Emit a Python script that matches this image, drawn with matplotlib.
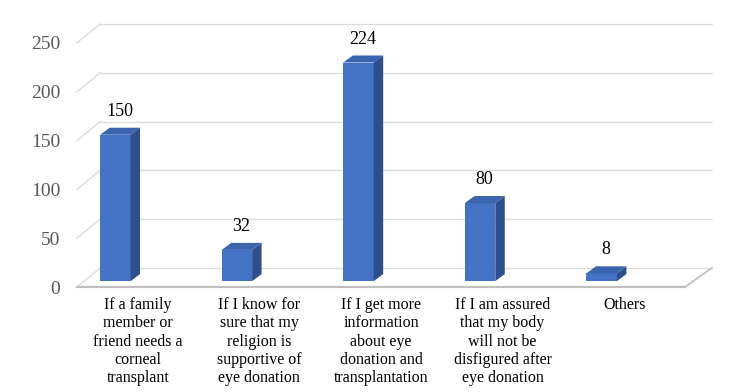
import matplotlib
matplotlib.use("Agg")
import matplotlib.pyplot as plt
from matplotlib.patches import Polygon

categories = [
    "If a family\nmember or\nfriend needs a\ncorneal\ntransplant",
    "If I know for\nsure that my\nreligion is\nsupportive of\neye donation",
    "If I get more\ninformation\nabout eye\ndonation and\ntransplantation",
    "If I am assured\nthat my body\nwill not be\ndisfigured after\neye donation",
    "Others",
]
values = [150, 32, 224, 80, 8]
yticks = [0, 50, 100, 150, 200, 250]

# geometry (data units)
bar_off = -0.185     # front face centre offset from category centre
bar_w = 0.25
bar_base = 6.0       # bars stand slightly back on the floor
bdx, bdy = 0.078, 7.2  # bar depth
wdx_l, wdx_r, wdy = 0.19, 0.22, 19.5  # wall/floor depth
x_left, x_front_right = -0.5, 4.5

front_c = "#4472C4"
top_c = "#3B64AE"
side_c = "#2E4F8E"
grid_c = "#DCDCDC"

fig = plt.figure(figsize=(7.5, 3.92), dpi=100)
ax = fig.add_axes([77/750, 105/392, 643/750, 277/392])
ax.set_xlim(-0.5, 4.788)
ax.set_ylim(0, 283.8)

# gridlines: slanted left segment + back horizontal
for t in yticks:
    ax.plot([x_left, x_left + wdx_l], [t, t + wdy], color=grid_c, lw=1, clip_on=False, zorder=1)
    ax.plot([x_left + wdx_l, x_front_right + wdx_r], [t + wdy, t + wdy], color=grid_c, lw=1,
            clip_on=False, zorder=1)
# floor front edge and right edge
ax.plot([x_left, x_front_right], [0, 0], color="#BFBFBF", lw=1.6, clip_on=False, zorder=2)
ax.plot([x_front_right, x_front_right + wdx_r], [0, wdy], color="#BFBFBF", lw=1.2,
        clip_on=False, zorder=2)

xs = [i + bar_off for i in range(len(values))]
ax.bar(xs, values, width=bar_w, bottom=bar_base, color=front_c, zorder=3, linewidth=0)
for x, v in zip(xs, values):
    x0, x1 = x - bar_w/2, x + bar_w/2
    ytop = bar_base + v
    ax.add_patch(Polygon([(x1, bar_base), (x1 + bdx, bar_base + bdy), (x1 + bdx, ytop + bdy), (x1, ytop)],
                         closed=True, facecolor=side_c, edgecolor="none", zorder=3))
    ax.add_patch(Polygon([(x0, ytop), (x0 + bdx, ytop + bdy), (x1 + bdx, ytop + bdy), (x1, ytop)],
                         closed=True, facecolor=top_c, edgecolor="none", zorder=3))
    ax.text(x + 0.035, ytop + bdy + 8, str(v), ha="center", va="bottom",
            fontsize=13, family="Liberation Serif", color="black", clip_on=False)

ax.set_yticks(yticks)
ax.set_yticklabels([str(t) for t in yticks], family="Liberation Serif", fontsize=14, color="#595959")
ax.set_xticks(range(len(categories)))
ax.set_xticklabels(categories, family="Liberation Serif", fontsize=11.5, color="black",
                   linespacing=1.2)
ax.tick_params(axis="y", length=0, pad=12)
ax.tick_params(axis="x", length=0, pad=7)
for s in ax.spines.values():
    s.set_visible(False)
ax.patch.set_alpha(0)

fig.savefig("out.png", dpi=100)
